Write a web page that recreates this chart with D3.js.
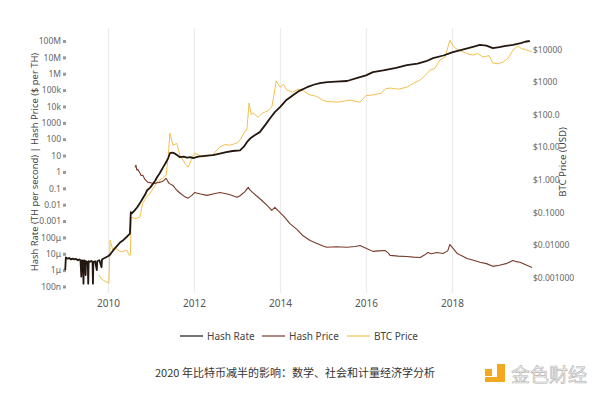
<!DOCTYPE html>
<html>
<head>
<meta charset="utf-8">
<script src="https://cdn.jsdelivr.net/npm/d3@7"></script>
<style>
  html, body { margin: 0; padding: 0; background: #fff; }
  svg { display: block; }
</style>
</head>
<body>
<svg id="chart" width="600" height="396"></svg>
<script>
// ---------------- DATA ----------------
const xTickYears = [2010, 2012, 2014, 2016, 2018];
const leftTickValues = [1e8, 1e7, 1e6, 1e5, 1e4, 1e3, 100, 10, 1, 0.1, 0.01, 0.001, 1e-4, 1e-5, 1e-6, 1e-7];
const leftTickLabels = ["100M", "10M", "1M", "100k", "10k", "1000", "100", "10", "1", "0.1", "0.01", "0.001", "100μ", "10μ", "1μ", "100n"];
const rightTickValues = [1e4, 1e3, 100, 10, 1, 0.1, 0.01, 0.001];
const rightTickLabels = ["$10000", "$1000", "$100.0", "$10.00", "$1.000", "$0.1000", "$0.01000", "$0.001000"];
const seriesNames = ["Hash Rate", "Hash Price", "BTC Price"];

// Hash Rate (TH/s), left axis
const hashRateYears = [2009.005, 2009.02, 2009.06, 2009.10, 2009.14, 2009.18, 2009.22, 2009.26, 2009.30, 2009.33,
  2009.36, 2009.38, 2009.39, 2009.42, 2009.43, 2009.44, 2009.47, 2009.48, 2009.49, 2009.53,
  2009.54, 2009.55, 2009.58, 2009.61, 2009.64, 2009.65, 2009.66, 2009.70, 2009.74, 2009.75,
  2009.80, 2009.85, 2009.86, 2009.92, 2010.00, 2010.05, 2010.12, 2010.20, 2010.28, 2010.36,
  2010.44, 2010.51, 2010.53, 2010.56, 2010.62, 2010.68, 2010.74, 2010.80, 2010.86, 2010.91,
  2010.98, 2011.04, 2011.10, 2011.14, 2011.20, 2011.28, 2011.34, 2011.40, 2011.44, 2011.50,
  2011.56, 2011.62, 2011.67, 2011.76, 2011.84, 2011.92, 2011.98, 2012.10, 2012.25, 2012.44,
  2012.60, 2012.75, 2012.90, 2013.07, 2013.16, 2013.23, 2013.32, 2013.42, 2013.53, 2013.65,
  2013.77, 2013.88, 2014.00, 2014.15, 2014.30, 2014.45, 2014.63, 2014.80, 2014.93, 2015.10,
  2015.30, 2015.56, 2015.80, 2016.00, 2016.16, 2016.40, 2016.70, 2016.95, 2017.20, 2017.40,
  2017.56, 2017.80, 2018.02, 2018.20, 2018.40, 2018.55, 2018.65, 2018.80, 2018.95, 2019.10,
  2019.25, 2019.42, 2019.60, 2019.70, 2019.81];
const hashRateValues = [1e-6, 6e-6, 5e-6, 5.5e-6, 4.5e-6, 5e-6, 4.5e-6, 4.8e-6, 4e-6, 4.5e-6,
  4e-6, 4e-7, 4e-6, 3.5e-6, 1.5e-7, 4e-6, 3.5e-6, 5e-7, 3.5e-6, 3e-6,
  1.5e-7, 3.5e-6, 3.2e-6, 3.6e-6, 3.3e-6, 1.5e-7, 3e-6, 3.5e-6, 1e-6, 3.5e-6,
  4e-6, 1.5e-6, 4.5e-6, 5.5e-6, 7e-6, 9e-6, 1.6e-5, 2.8e-5, 4.9e-5, 7e-5,
  1.1e-4, 1.7e-4, 3.5e-3, 3e-3, 4.5e-3, 7e-3, 1.2e-2, 2.2e-2, 4e-2, 7.6e-2,
  1.1e-1, 1.8e-1, 3e-1, 4.7e-1, 8e-1, 1.9, 3.5, 7, 14, 15,
  13, 10, 8, 8.5, 7.5, 8, 7, 8.5, 9.5, 10.5,
  13, 16, 19, 21, 35, 66, 120, 180, 270, 700,
  1900, 4500, 9100, 2.5e4, 4.9e4, 9e4, 1.5e5, 2.2e5, 2.7e5, 3.1e5,
  3.3e5, 3.6e5, 5.5e5, 8e5, 1.26e6, 1.6e6, 2.3e6, 3.4e6, 4.2e6, 5.8e6,
  9e6, 1.3e7, 2.1e7, 2.8e7, 3.8e7, 4.8e7, 5.8e7, 5.2e7, 3.7e7, 4.2e7,
  5e7, 5.8e7, 7.5e7, 9e7, 1e8];

// Hash Price ($ per TH), left axis
const hashPriceYears = [2010.63, 2010.65, 2010.67, 2010.69, 2010.71, 2010.74, 2010.77, 2010.81, 2010.86, 2010.93,
  2011.02, 2011.09, 2011.14, 2011.19, 2011.26, 2011.30, 2011.35, 2011.38, 2011.42, 2011.51,
  2011.60, 2011.70, 2011.79, 2011.86, 2011.95, 2012.02, 2012.08, 2012.15, 2012.30, 2012.44,
  2012.52, 2012.60, 2012.72, 2012.84, 2013.00, 2013.07, 2013.18, 2013.26, 2013.30, 2013.35,
  2013.45, 2013.58, 2013.70, 2013.81, 2013.88, 2013.95, 2014.10, 2014.23, 2014.40, 2014.53,
  2014.70, 2014.86, 2015.00, 2015.09, 2015.30, 2015.56, 2015.75, 2015.86, 2016.00, 2016.16,
  2016.30, 2016.44, 2016.52, 2016.56, 2016.75, 2016.95, 2017.10, 2017.26, 2017.35, 2017.44,
  2017.52, 2017.65, 2017.79, 2017.90, 2017.95, 2018.02, 2018.12, 2018.25, 2018.35, 2018.50,
  2018.65, 2018.80, 2018.95, 2019.10, 2019.28, 2019.42, 2019.50, 2019.58, 2019.70, 2019.86];
const hashPriceValues = [1.9, 2.6, 1.3, 1.45, 1.2, 0.9, 0.6, 0.62, 0.35, 0.23,
  0.21, 0.2, 0.22, 0.23, 0.26, 0.3, 0.41, 0.3, 0.2, 0.15,
  0.076, 0.045, 0.03, 0.025, 0.037, 0.056, 0.05, 0.045, 0.037, 0.045,
  0.05, 0.056, 0.048, 0.04, 0.028, 0.035, 0.06, 0.115, 0.08, 0.06,
  0.035, 0.018, 0.009, 0.0045, 0.0068, 0.0045, 0.0018, 0.0007, 0.0003, 1.3e-4,
  6.5e-5, 4.3e-5, 3e-5, 2.5e-5, 2.7e-5, 2.5e-5, 2.8e-5, 3.2e-5, 2.2e-5, 1.4e-5,
  1.5e-5, 1.6e-5, 1.1e-5, 8e-6, 7.2e-6, 6.8e-6, 6.2e-6, 5.9e-6, 8e-6, 1.2e-5,
  1e-5, 1.2e-5, 1.05e-5, 1.5e-5, 3.7e-5, 2.2e-5, 1.05e-5, 7e-6, 5.1e-6, 4e-6,
  3e-6, 2.5e-6, 1.7e-6, 2e-6, 2.6e-6, 3.9e-6, 3.3e-6, 3e-6, 2.2e-6, 1.45e-6];

// BTC Price (USD), right axis
const btcYears = [2009.79, 2009.85, 2009.92, 2010.02, 2010.05, 2010.09, 2010.12, 2010.17, 2010.30, 2010.44,
  2010.49, 2010.52, 2010.54, 2010.65, 2010.74, 2010.81, 2010.90, 2010.98, 2011.07, 2011.14,
  2011.26, 2011.35, 2011.40, 2011.44, 2011.51, 2011.60, 2011.67, 2011.79, 2011.86, 2011.90,
  2011.95, 2012.02, 2012.21, 2012.44, 2012.60, 2012.72, 2012.84, 2013.00, 2013.07, 2013.18,
  2013.23, 2013.28, 2013.33, 2013.37, 2013.49, 2013.60, 2013.72, 2013.81, 2013.86, 2013.91,
  2014.00, 2014.08, 2014.16, 2014.30, 2014.42, 2014.55, 2014.70, 2014.85, 2015.00, 2015.10,
  2015.33, 2015.50, 2015.63, 2015.86, 2016.00, 2016.16, 2016.35, 2016.46, 2016.56, 2016.75,
  2016.95, 2017.10, 2017.26, 2017.40, 2017.49, 2017.60, 2017.72, 2017.84, 2017.95, 2018.02,
  2018.07, 2018.15, 2018.26, 2018.40, 2018.49, 2018.60, 2018.72, 2018.86, 2018.95, 2019.08,
  2019.19, 2019.30, 2019.42, 2019.53, 2019.62, 2019.74, 2019.86];
const btcValues = [0.0012, 0.0009, 0.0008, 0.00068, 0.014, 0.009, 0.0069, 0.008, 0.0062, 0.0069,
  0.0049, 0.0049, 0.07, 0.065, 0.072, 0.195, 0.3, 0.39, 0.6, 0.85,
  1.12, 1.38, 5, 27, 11.5, 13, 5.8, 3.2, 2.45, 3,
  4.7, 6.6, 5, 6, 10, 12, 11.5, 13.5, 16.6, 30,
  33, 224, 100, 112, 83, 112, 130, 170, 400, 1070,
  690, 850, 560, 490, 600, 520, 400, 360, 275, 250,
  240, 260, 275, 240, 380, 400, 450, 620, 650, 600,
  690, 900, 1150, 1700, 2300, 2600, 4700, 5800, 19000, 13000,
  11000, 9500, 8300, 7000, 6700, 7400, 5800, 6400, 3800, 3600,
  4100, 5200, 9500, 12500, 10500, 9500, 8300];

// ---------------- CHART ----------------
const svg = d3.select("#chart");
const plotTop = 28, plotBottom = 293;

const x = d3.scaleLinear().domain([2010, 2018]).range([108, 452]);
const yL = d3.scaleLog().domain([1e-7, 1e8]).range([286.5, 41]);
const yR = d3.scaleLog().domain([0.001, 10000]).range([277.7, 49.3]);

const font = "'Noto Sans', 'Open Sans', sans-serif";

// x grid + labels
const xAxis = svg.append("g")
  .attr("transform", `translate(0,${plotBottom})`)
  .call(d3.axisBottom(x).tickValues(xTickYears).tickFormat(d3.format("d"))
    .tickSize(-(plotBottom - plotTop)).tickPadding(7));
xAxis.select(".domain").remove();
xAxis.selectAll(".tick line").attr("stroke", "#ececec").attr("stroke-width", 1.2);
xAxis.selectAll(".tick text").attr("fill", "#555").style("font-family", font).style("font-size", "10px");

// left axis
const yLAxis = svg.append("g")
  .attr("transform", "translate(66,0)")
  .call(d3.axisLeft(yL).tickValues(leftTickValues)
    .tickFormat((d, i) => leftTickLabels[i]).tickSize(3).tickPadding(2));
yLAxis.select(".domain").remove();
yLAxis.selectAll(".tick line").attr("stroke", "#999").attr("stroke-width", 3);
yLAxis.selectAll(".tick text").attr("fill", "#666").style("font-family", font).style("font-size", "8.5px");

// right axis
const yRAxis = svg.append("g")
  .attr("transform", "translate(533,0)")
  .call(d3.axisRight(yR).tickValues(rightTickValues)
    .tickFormat((d, i) => rightTickLabels[i]).tickSize(0).tickPadding(0));
yRAxis.select(".domain").remove();
yRAxis.selectAll(".tick text").attr("fill", "#666").style("font-family", font).style("font-size", "8.5px");

// axis titles
svg.append("text")
  .attr("transform", "translate(38,162) rotate(-90)")
  .attr("text-anchor", "middle")
  .attr("fill", "#444")
  .style("font-family", font).style("font-size", "9.4px")
  .text("Hash Rate (TH per second) | Hash Price ($ per TH)");
svg.append("text")
  .attr("transform", "translate(566,162) rotate(-90)")
  .attr("text-anchor", "middle")
  .attr("fill", "#444")
  .style("font-family", font).style("font-size", "9.6px")
  .text("BTC Price (USD)");

// series
const colors = ["#24170f", "#7a3a2a", "#f2c14e"];
const widths = [1.8, 1.1, 1.0];

const mk = (ys, vs) => ys.map((y, i) => ({ t: y, v: vs[i] }));
const lineL = d3.line().x(d => x(d.t)).y(d => yL(d.v));
const lineR = d3.line().x(d => x(d.t)).y(d => yR(d.v));

svg.append("path").datum(mk(btcYears, btcValues))
  .attr("fill", "none").attr("stroke", colors[2]).attr("stroke-width", widths[2])
  .attr("stroke-linejoin", "round").attr("d", lineR);
svg.append("path").datum(mk(hashPriceYears, hashPriceValues))
  .attr("fill", "none").attr("stroke", colors[1]).attr("stroke-width", widths[1])
  .attr("stroke-linejoin", "round").attr("d", lineL);
svg.append("path").datum(mk(hashRateYears, hashRateValues))
  .attr("fill", "none").attr("stroke", colors[0]).attr("stroke-width", widths[0])
  .attr("stroke-linejoin", "round").attr("d", lineL);

// legend
const legendX = [180, 262, 347];
const lg = svg.append("g");
seriesNames.forEach((name, i) => {
  lg.append("line").attr("x1", legendX[i]).attr("x2", legendX[i] + 23)
    .attr("y1", 336).attr("y2", 336)
    .attr("stroke", colors[i]).attr("stroke-width", 1.2);
  lg.append("text").attr("x", legendX[i] + 27).attr("y", 339.5)
    .attr("fill", "#444").style("font-family", font).style("font-size", "10px")
    .text(name);
});

// caption
svg.append("text").attr("x", 155).attr("y", 377)
  .attr("fill", "#333")
  .style("font-family", "'Noto Sans CJK SC', 'Noto Sans', sans-serif")
  .style("font-size", "11px")
  .text("2020 年比特币减半的影响：数学、社会和计量经济学分析");

// logo
const logo = svg.append("g");
logo.append("rect").attr("x", 485).attr("y", 369).attr("width", 7).attr("height", 7).attr("fill", "#f3a81f");
logo.append("rect").attr("x", 497).attr("y", 364).attr("width", 8).attr("height", 18).attr("fill", "#f3a81f");
logo.append("rect").attr("x", 485).attr("y", 377).attr("width", 20).attr("height", 5).attr("fill", "#f3a81f");
logo.append("text").attr("x", 511).attr("y", 382)
  .attr("fill", "#f2f2f2").attr("stroke", "#b5b5b5").attr("stroke-width", 0.6)
  .style("font-family", "'Noto Sans CJK SC', sans-serif").style("font-size", "19px")
  .text("金色财经");
</script>
</body>
</html>
